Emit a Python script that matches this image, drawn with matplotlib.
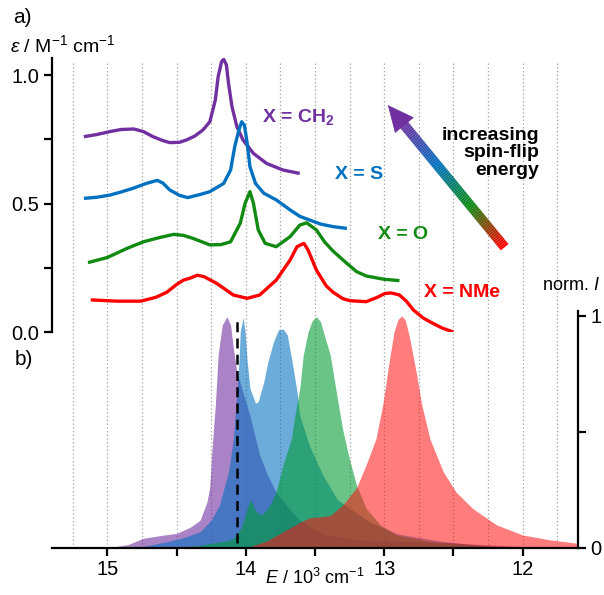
import numpy as np
import matplotlib
matplotlib.use("Agg")
import matplotlib.pyplot as plt
from matplotlib.collections import LineCollection
from matplotlib.colors import LinearSegmentedColormap
from matplotlib.patches import FancyArrowPatch

plt.rcParams['font.family'] = ['Liberation Sans', 'DejaVu Sans']
plt.rcParams['mathtext.fontset'] = 'custom'
plt.rcParams['mathtext.rm'] = 'Liberation Sans'
plt.rcParams['mathtext.it'] = 'Liberation Sans:italic'
plt.rcParams['mathtext.bf'] = 'Liberation Sans:bold'

# --- a) absorption, x in 10^3 cm-1, eps in M-1 cm-1 (offset traces)
abs_ch2_x = [15.17, 15.08, 14.98, 14.90, 14.81, 14.74, 14.67, 14.60, 14.55, 14.48, 14.43,
             14.37, 14.31, 14.26, 14.22, 14.20, 14.175, 14.16, 14.14, 14.125, 14.10,
             14.065, 14.02, 13.945, 13.85, 13.73, 13.61]
abs_ch2_y = [0.760, 0.768, 0.780, 0.788, 0.790, 0.780, 0.760, 0.745, 0.737, 0.738, 0.747,
             0.762, 0.786, 0.818, 0.903, 0.993, 1.052, 1.061, 1.039, 0.968, 0.877,
             0.800, 0.747, 0.695, 0.656, 0.630, 0.617]

abs_s_x = [15.17, 15.08, 14.98, 14.90, 14.81, 14.72, 14.64, 14.60, 14.55, 14.48, 14.42,
           14.33, 14.26, 14.16, 14.11, 14.08, 14.05, 14.03, 14.01, 13.99, 13.97, 13.93,
           13.87, 13.78, 13.68, 13.61, 13.56, 13.46, 13.37, 13.27]
abs_s_y = [0.520, 0.524, 0.533, 0.545, 0.560, 0.578, 0.590, 0.580, 0.553, 0.532, 0.523,
           0.535, 0.546, 0.578, 0.630, 0.721, 0.786, 0.818, 0.805, 0.734, 0.643, 0.578,
           0.540, 0.514, 0.475, 0.450, 0.440, 0.420, 0.410, 0.403]

abs_o_x = [15.14, 15.00, 14.86, 14.74, 14.62, 14.52, 14.45, 14.38, 14.26, 14.18, 14.11,
           14.04, 14.005, 13.97, 13.945, 13.91, 13.86, 13.78, 13.68, 13.61, 13.56, 13.49,
           13.43, 13.37, 13.27, 13.20, 13.13, 13.00, 12.89]
abs_o_y = [0.270, 0.290, 0.325, 0.351, 0.368, 0.380, 0.376, 0.364, 0.339, 0.340, 0.351,
           0.423, 0.501, 0.546, 0.501, 0.397, 0.345, 0.332, 0.371, 0.416, 0.425, 0.397,
           0.350, 0.315, 0.267, 0.235, 0.218, 0.205, 0.200]

abs_nme_x = [15.12, 14.93, 14.76, 14.65, 14.57, 14.50, 14.45, 14.40, 14.35, 14.30, 14.21,
             14.09, 13.99, 13.90, 13.78, 13.68, 13.63, 13.58, 13.55, 13.49, 13.42, 13.37,
             13.30, 13.25, 13.13, 13.05, 12.995, 12.95, 12.89, 12.84, 12.79, 12.72,
             12.65, 12.58, 12.50]
abs_nme_y = [0.125, 0.120, 0.120, 0.135, 0.155, 0.185, 0.202, 0.210, 0.221, 0.215, 0.189,
             0.144, 0.131, 0.144, 0.202, 0.280, 0.332, 0.345, 0.319, 0.241, 0.180, 0.155,
             0.130, 0.122, 0.118, 0.135, 0.150, 0.152, 0.144, 0.120, 0.086, 0.055,
             0.034, 0.015, 0.000]

# --- b) normalised emission
em_ch2_x = [15.00, 14.85, 14.74, 14.60, 14.50, 14.40, 14.33, 14.28, 14.26, 14.245, 14.22,
            14.20, 14.17, 14.137, 14.11, 14.09, 14.065, 14.02, 13.97, 13.90, 13.84, 13.78,
            13.70, 13.63, 13.54, 13.44, 13.20, 12.90, 12.60, 12.30, 12.00]
em_ch2_y = [0.000, 0.015, 0.042, 0.055, 0.063, 0.090, 0.120, 0.200, 0.264, 0.420, 0.616,
            0.832, 0.961, 0.997, 0.961, 0.861, 0.760, 0.670, 0.570, 0.400, 0.310, 0.240,
            0.180, 0.130, 0.090, 0.060, 0.035, 0.030, 0.025, 0.015, 0.005]

em_s_x = [14.80, 14.57, 14.45, 14.33, 14.25, 14.19, 14.125, 14.09, 14.07, 14.05, 14.04,
          14.02, 14.005, 13.99, 13.97, 13.93, 13.91, 13.87, 13.84, 13.80, 13.765, 13.73,
          13.70, 13.67, 13.63, 13.61, 13.54, 13.44, 13.34, 13.25, 13.10, 12.90, 12.60,
          12.30, 12.00]
em_s_y = [0.000, 0.027, 0.045, 0.070, 0.120, 0.185, 0.330, 0.470, 0.620, 0.800, 0.932,
          0.993, 0.932, 0.803, 0.688, 0.624, 0.631, 0.717, 0.803, 0.889, 0.940, 0.944,
          0.918, 0.818, 0.674, 0.570, 0.440, 0.310, 0.210, 0.170, 0.110, 0.060, 0.030,
          0.010, 0.000]

em_o_x = [14.50, 14.33, 14.15, 14.09, 14.03, 14.00, 13.97, 13.95, 13.93, 13.885, 13.83,
          13.78, 13.73, 13.67, 13.645, 13.61, 13.585, 13.55, 13.52, 13.49, 13.46, 13.44,
          13.39, 13.34, 13.30, 13.25, 13.20, 13.13, 13.03, 12.91, 12.67, 12.36, 12.00]
em_o_y = [0.000, 0.012, 0.030, 0.040, 0.090, 0.150, 0.207, 0.190, 0.160, 0.142, 0.180,
          0.243, 0.360, 0.473, 0.573, 0.688, 0.832, 0.932, 0.980, 0.997, 0.975, 0.932,
          0.832, 0.650, 0.510, 0.380, 0.270, 0.170, 0.100, 0.056, 0.027, 0.013, 0.000]

em_nme_x = [14.00, 13.85, 13.70, 13.61, 13.54, 13.45, 13.39, 13.30, 13.20, 13.13, 13.06,
            13.01, 12.98, 12.96, 12.93, 12.90, 12.875, 12.85, 12.83, 12.815, 12.77, 12.73,
            12.67, 12.575, 12.48, 12.36, 12.19, 12.00, 11.80, 11.60]
em_nme_y = [0.000, 0.030, 0.080, 0.110, 0.130, 0.135, 0.140, 0.185, 0.260, 0.360, 0.470,
            0.620, 0.740, 0.820, 0.930, 0.985, 1.000, 0.985, 0.940, 0.900, 0.760, 0.620,
            0.470, 0.330, 0.240, 0.170, 0.100, 0.056, 0.035, 0.020]

labels = [r"X = CH$_\mathbf{2}$", "X = S", "X = O", "X = NMe"]
label_x = [13.62, 13.183, 12.866, 12.437]
label_y = [0.837, 0.611, 0.381, 0.152]

line_cols = ['#7030a0', '#0070c0', '#108a10', '#ff0000']
fill_cols = ['#7030a0', '#0070c0', '#009a30', '#ff1010']

dash_x = 14.06
grid_x = np.arange(11.75, 15.26, 0.25)

fig = plt.figure(figsize=(6.04, 5.95), dpi=100)
axb = fig.add_axes([0.0861, 0.0790, 0.8709, 0.8168])
axa = fig.add_axes([0.0861, 0.4420, 0.8709, 0.4605])
axa.patch.set_alpha(0)

xlim = (15.40, 11.60)

# bottom panel
axb.set_xlim(*xlim)
axb.set_ylim(0, 2.0948)
axb.vlines(grid_x, 0, 2.0948, colors='#a0a0a0', linestyles=(0, (1, 2)), lw=0.9, zorder=0)
em = [(em_ch2_x, em_ch2_y), (em_s_x, em_s_y), (em_o_x, em_o_y), (em_nme_x, em_nme_y)]
alphas = [0.6, 0.58, 0.58, 0.55]
for (ex, ey), c, a in zip(em, fill_cols, alphas):
    axb.fill_between(ex, 0, ey, color=c, alpha=a, lw=0, zorder=2)
axb.vlines(dash_x, 0.02, 1.0, colors='black', linestyles=(0, (4, 2.5)), lw=1.8, zorder=3)

for s in ['top', 'left']:
    axb.spines[s].set_visible(False)
for s in ['bottom', 'right']:
    axb.spines[s].set_linewidth(1.6)
axb.spines['right'].set_bounds(0, 1.02)
axb.yaxis.tick_right()
axb.set_yticks([0, 0.5, 1])
axb.set_yticklabels(['0', '', '1'])
axb.set_xticks([15, 14, 13, 12])
axb.set_xticks([14.5, 13.5, 12.5], minor=True)
axb.tick_params(axis='both', which='both', direction='out', length=6, width=1.6,
                labelsize=14.5, pad=3)

# top panel
axa.set_xlim(*xlim)
axa.set_ylim(0, 1.0661)
absd = [(abs_ch2_x, abs_ch2_y), (abs_s_x, abs_s_y), (abs_o_x, abs_o_y), (abs_nme_x, abs_nme_y)]
for (ax_, ay_), c in zip(absd, line_cols):
    axa.plot(ax_, ay_, color=c, lw=2.4, solid_capstyle='butt', solid_joinstyle='round', zorder=3)
for t, tx, ty, c in zip(labels, label_x, label_y, line_cols):
    axa.text(tx, ty, t, color=c, fontsize=14, fontweight='bold', ha='center', va='center')

for s in ['top', 'right', 'bottom']:
    axa.spines[s].set_visible(False)
axa.spines['left'].set_linewidth(1.6)
axa.set_xticks([])
axa.set_yticks([0, 0.5, 1.0])
axa.set_yticks([0.25, 0.75], minor=True)
axa.set_yticklabels(['0.0', '0.5', '1.0'])
axa.tick_params(axis='y', which='both', direction='out', length=6, width=1.6,
                labelsize=14.5, pad=3)

# gradient arrow
arrow_tail = np.array([12.13, 0.33])
arrow_tip = np.array([12.974, 0.883])
base = arrow_tip + 0.136 * (arrow_tail - arrow_tip)
t = np.linspace(0, 1, 80)
pts = arrow_tail[None, :] + t[:, None] * (base - arrow_tail)[None, :]
segs = np.stack([pts[:-1], pts[1:]], axis=1)
cmap = LinearSegmentedColormap.from_list('grad', ['#ff0000', '#0a8a10', '#0070c0', '#7030a0'])
lc = LineCollection(segs, colors=cmap(t[:-1]), linewidths=7.2, capstyle='butt', zorder=4)
axa.add_collection(lc)
head = FancyArrowPatch(posA=tuple(base), posB=tuple(arrow_tip),
                       arrowstyle='-|>,head_length=0.9,head_width=0.42',
                       mutation_scale=20, color='#7030a0', lw=0.5,
                       shrinkA=0, shrinkB=0, zorder=5)
axa.add_patch(head)
axa.text(11.878, 0.697, "increasing\nspin-flip\nenergy", ha='right', va='center',
         fontsize=14, fontweight='bold', linespacing=1.05)

# figure texts
fig.text(0.022, 0.971, "a)", fontsize=15, va='center')
fig.text(0.016, 0.924, r"$\mathit{\varepsilon}$ / M$^{-1}$ cm$^{-1}$", fontsize=14, va='center')
fig.text(0.025, 0.395, "b)", fontsize=15, va='center')
fig.text(0.945, 0.521, r"norm. $I$", fontsize=13, va='center', ha='center')
fig.text(0.521, 0.029, r"$E$ / 10$^3$ cm$^{-1}$", fontsize=13, va='center', ha='center')

fig.savefig("out.png", dpi=100)
